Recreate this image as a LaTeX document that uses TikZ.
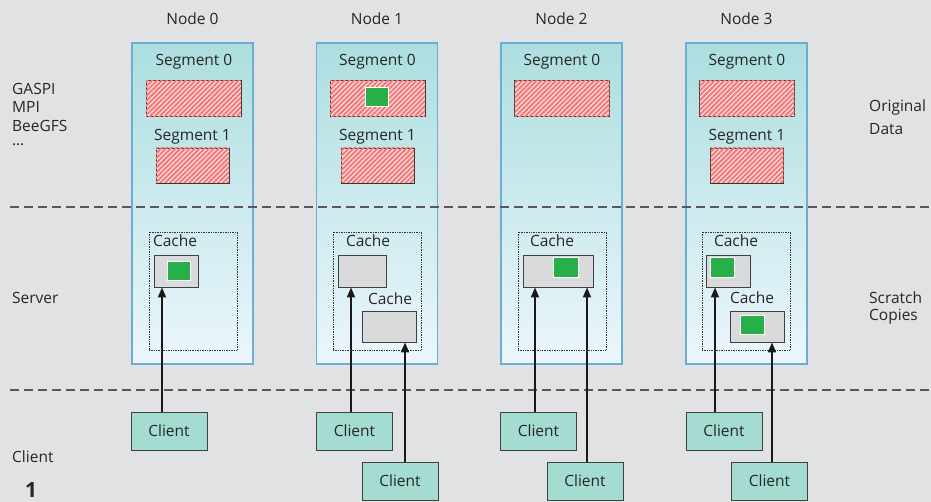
\documentclass[tikz,border=0pt]{standalone}
\usepackage{fontspec}
\setmainfont{Open Sans}
\usetikzlibrary{arrows.meta,patterns.meta}
\definecolor{bgHTML}{HTML}{E1E2E4}
\definecolor{panelTopHTML}{HTML}{ADDEDF}
\definecolor{panelBottomHTML}{HTML}{EBF6FC}
\definecolor{panelEdgeHTML}{HTML}{6AAED6}
\definecolor{clientHTML}{HTML}{A5DCD1}
\definecolor{greenHTML}{HTML}{27B04A}
\definecolor{cacheHTML}{HTML}{D9DADC}
\definecolor{textHTML}{HTML}{262626}
\definecolor{hatchHTML}{HTML}{F47878}
\definecolor{hatchBackHTML}{HTML}{FCE4E4}
\tikzset{
  every node/.style={text=textHTML, font=\fontsize{15.5}{18}\selectfont},
  panel/.style={rectangle, draw=panelEdgeHTML, line width=1.2, top color=panelTopHTML, bottom color=panelBottomHTML, minimum width=121, minimum height=321, inner sep=0},
  seg_box/.style={rectangle, draw=black!80, line width=0.9, fill=hatchBackHTML, postaction={pattern={Lines[angle=45, distance=3.4pt, line width=2pt]}, pattern color=hatchHTML}, minimum height=36, inner sep=0},
  green_box/.style={rectangle, draw=white, line width=1, fill=greenHTML, inner sep=0},
  cache_area/.style={rectangle, draw=black!80, densely dotted, line width=0.7, minimum width=88, minimum height=118, inner sep=0},
  cache_box/.style={rectangle, draw=black!75, line width=0.9, fill=cacheHTML, inner sep=0},
  client_box/.style={rectangle, draw=black!75, line width=0.9, fill=clientHTML, minimum width=76, minimum height=38, inner sep=0},
  side_label/.style={anchor=west, inner sep=0, align=left},
  arrow_edge/.style={line width=1.7, draw=black!90, -{Triangle[length=10pt, width=8pt]}},
  sep_line/.style={line width=1.4, draw=black!65, dash pattern=on 9pt off 5pt}
}
\begin{document}
\begin{tikzpicture}[x=1pt, y=-1pt]
    \useasboundingbox[fill=bgHTML] (0,0) rectangle (931,502);
    % columns
    \node[panel] (p0) at (192.5,203.5) {};
    \node[panel] (p1) at (377,203.5) {};
    \node[panel] (p2) at (561.5,203.5) {};
    \node[panel] (p3) at (746.5,203.5) {};
    \node[] (t0) at (192.5,19) {Node 0};
    \node[] (t1) at (377,19) {Node 1};
    \node[] (t2) at (561.5,19) {Node 2};
    \node[] (t3) at (746.5,19) {Node 3};
    % original data
    \node[] (sl00) at (194,62) {Segment 0};
    \node[] (sl01) at (192.5,137) {Segment 1};
    \node[] (sl10) at (377.5,62) {Segment 0};
    \node[] (sl11) at (377.5,137) {Segment 1};
    \node[] (sl20) at (562,62) {Segment 0};
    \node[] (sl30) at (747,62) {Segment 0};
    \node[] (sl31) at (747,137) {Segment 1};
    \node[seg_box, minimum width=95] (s00) at (193.5,98.5) {};
    \node[seg_box, minimum width=73, minimum height=35] (s01) at (192.5,165.5) {};
    \node[seg_box, minimum width=95] (s10) at (377.5,98.5) {};
    \node[seg_box, minimum width=73, minimum height=35] (s11) at (377.5,165.5) {};
    \node[seg_box, minimum width=95] (s20) at (562,98.5) {};
    \node[seg_box, minimum width=95] (s30) at (747,98.5) {};
    \node[seg_box, minimum width=73, minimum height=35] (s31) at (747,165.5) {};
    \node[green_box, minimum width=23, minimum height=19] (g10) at (376.5,97.5) {};
    % layer separators
    \coordinate (d1l) at (10,207);
    \coordinate (d1r) at (931,207);
    \coordinate (d2l) at (10,390);
    \coordinate (d2r) at (931,390);
    \draw[sep_line] (d1l) -- (d1r);
    \draw[sep_line] (d2l) -- (d2r);
    % scratch copies
    \node[cache_area] (a0) at (193,291) {};
    \node[cache_area] (a1) at (377,291) {};
    \node[cache_area] (a2) at (562,291) {};
    \node[cache_area] (a3) at (746,291) {};
    \node[] (cl0) at (175,241) {Cache};
    \node[] (cl1) at (368,241) {Cache};
    \node[] (cl1b) at (390,299) {Cache};
    \node[] (cl2) at (552,241) {Cache};
    \node[] (cl3) at (736,241) {Cache};
    \node[] (cl3b) at (752,298) {Cache};
    \node[cache_box, minimum width=44, minimum height=32] (c0) at (176,271) {};
    \node[cache_box, minimum width=48, minimum height=32] (c1) at (362,271) {};
    \node[cache_box, minimum width=54, minimum height=31] (c1b) at (389,326.5) {};
    \node[cache_box, minimum width=70, minimum height=32] (c2) at (558,271) {};
    \node[cache_box, minimum width=44, minimum height=32] (c3) at (728,271) {};
    \node[cache_box, minimum width=54, minimum height=31] (c3b) at (757,326.5) {};
    \node[green_box, minimum width=23, minimum height=19] (g0) at (178.5,271.5) {};
    \node[green_box, minimum width=25, minimum height=20] (g2) at (565.5,268) {};
    \node[green_box, minimum width=24, minimum height=20] (g3) at (722,268) {};
    \node[green_box, minimum width=24, minimum height=19] (g3b) at (752,325.5) {};
    % clients
    \node[client_box] (k0) at (169,431) {Client};
    \node[client_box] (k1) at (354.5,431) {Client};
    \node[client_box] (k1b) at (400,481) {Client};
    \node[client_box] (k2) at (538.5,431) {Client};
    \node[client_box] (k2b) at (585,481) {Client};
    \node[client_box] (k3) at (724,431) {Client};
    \node[client_box] (k3b) at (769.5,481) {Client};
    \coordinate (x0) at (162,0);
    \coordinate (x1) at (351,0);
    \coordinate (x1b) at (405,0);
    \coordinate (x2) at (535,0);
    \coordinate (x2b) at (587,0);
    \coordinate (x3) at (715,0);
    \coordinate (x3b) at (772,0);
    \draw[arrow_edge] (x0 |- k0.north) -- (x0 |- c0.south);
    \draw[arrow_edge] (x1 |- k1.north) -- (x1 |- c1.south);
    \draw[arrow_edge] (x1b |- k1b.north) -- (x1b |- c1b.south);
    \draw[arrow_edge] (x2 |- k2.north) -- (x2 |- c2.south);
    \draw[arrow_edge] (x2b |- k2b.north) -- (x2b |- c2.south);
    \draw[arrow_edge] (x3 |- k3.north) -- (x3 |- c3.south);
    \draw[arrow_edge] (x3b |- k3b.north) -- (x3b |- c3b.south);
    % side labels
    \node[side_label] (l1) at (12,89) {GASPI};
    \node[side_label] (l2) at (12,107) {MPI};
    \node[side_label] (l3) at (12,126) {BeeGFS};
    \node[side_label] (l4) at (12,145) {\dots};
    \node[side_label] (l5) at (12,298) {Server};
    \node[side_label] (l6) at (12,457) {Client};
    \node[font=\fontsize{21}{24}\selectfont\bfseries] (l7) at (31,490) {1};
    \node[side_label] (r1) at (869,107) {Original};
    \node[side_label] (r2) at (869,129) {Data};
    \node[side_label] (r3) at (869,298) {Scratch};
    \node[side_label] (r4) at (869,317) {Copies};
\end{tikzpicture}
\end{document}
